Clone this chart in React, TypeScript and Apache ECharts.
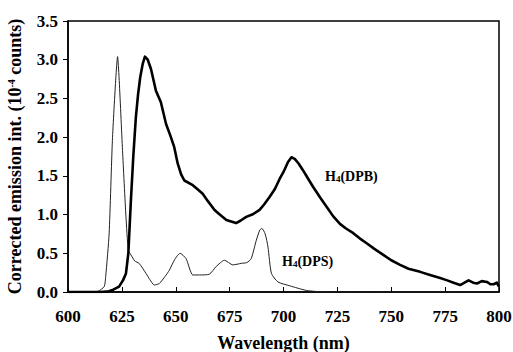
import React, { useEffect, useRef } from "react";
import * as echarts from "echarts";

const dpsWavelength = [600,605,610,614,616.8,617.5,619.1,620.6,622.2,623,623.7,625.3,626.9,628,629.2,631,633,636.2,638,640,642.4,645,647,649.5,652,654.8,657.9,661,665.6,668.8,672.6,676.5,680.4,683,685,687.4,689,690,691.5,692.8,694.4,697.4,702.9,710.7,720,730,740,760,780,800];
const dpsIntensity = [0,0,0,0.01,0.07,0.2,0.76,1.96,2.77,3.04,2.77,1.83,0.97,0.54,0.48,0.4,0.37,0.24,0.16,0.09,0.11,0.2,0.28,0.42,0.5,0.43,0.22,0.22,0.23,0.33,0.41,0.35,0.37,0.38,0.43,0.67,0.8,0.82,0.75,0.58,0.24,0.13,0.08,0.02,0,0,0,0,0,0];

const dpbWavelength = [600,610,615,619,621,623.7,625.5,626.9,628,629.2,630.3,631.5,632.5,633.5,634.7,635.7,637,638.5,640.8,643.1,645.5,647.5,649.3,650.9,652.5,654,657.9,660,662.5,665,668,670,671.8,673.5,675.7,678,680,682.7,685.5,688.9,691,693.6,696,698.2,700,702.1,703.7,705.2,707,709.1,711.5,713.7,717,720,723,726.2,729,732.4,735.5,738.6,742,746.3,750,754.1,758,763.4,768,772.7,776,778.9,782,784,785.9,788,789.8,792,794.4,796,797.5,799,800];
const dpbIntensity = [0,0,0,0.01,0.03,0.07,0.15,0.24,0.5,1.19,1.75,2.26,2.55,2.77,2.95,3.04,3.0,2.88,2.6,2.45,2.17,2.02,1.87,1.66,1.52,1.44,1.38,1.33,1.27,1.17,1.06,1.01,0.97,0.93,0.91,0.89,0.92,0.97,1.0,1.06,1.13,1.23,1.33,1.46,1.55,1.68,1.74,1.72,1.66,1.57,1.46,1.36,1.22,1.1,0.98,0.88,0.82,0.76,0.69,0.63,0.56,0.48,0.41,0.35,0.3,0.26,0.22,0.18,0.15,0.12,0.09,0.12,0.15,0.12,0.11,0.14,0.13,0.1,0.1,0.12,0.07];

const xMin = 600, xMax = 800, xStep = 25;
const yMin = 0, yMax = 3.5, yStep = 0.5;

const FONT = "Liberation Serif";

export default function App() {
  const ref = useRef<HTMLDivElement>(null);
  useEffect(() => {
    if (!ref.current) return;
    const chart = echarts.init(ref.current, null, { renderer: "svg" });
    const pair = (xs: number[], ys: number[]) => xs.map((x, i) => [x, ys[i]]);
    const labelStyle = { fontFamily: FONT, fontWeight: "bold" as const, fontSize: 17, color: "#000" };
    const annRich = {
      b: { fontFamily: FONT, fontWeight: "bold", fontSize: 14, color: "#000" },
      s: { fontFamily: FONT, fontWeight: "bold", fontSize: 9, color: "#000", padding: [6, 0, 0, 0] },
    };
    chart.setOption({
      animation: false,
      backgroundColor: "#fff",
      grid: { left: 68, right: 14, top: 21, bottom: 60, outerBoundsMode: "none", containLabel: false, show: true, borderColor: "#000", borderWidth: 1.5, backgroundColor: "transparent" },
      xAxis: {
        type: "value", min: xMin, max: xMax, interval: xStep,
        axisLine: { show: true, onZero: false, lineStyle: { color: "#000", width: 1.5 } },
        axisTick: { show: true, inside: true, length: 5, lineStyle: { color: "#000", width: 1 } },
        axisLabel: { ...labelStyle, margin: 16 },
        splitLine: { show: false },
        name: "Wavelength (nm)", nameLocation: "middle", nameGap: 42,
        nameTextStyle: { fontFamily: FONT, fontWeight: "bold", fontSize: 18, color: "#000" },
      },
      yAxis: {
        type: "value", min: yMin, max: yMax, interval: yStep,
        axisLine: { show: true, lineStyle: { color: "#000", width: 1.5 } },
        axisTick: { show: true, inside: false, length: 5, lineStyle: { color: "#000", width: 1 } },
        axisLabel: { ...labelStyle, margin: 10, formatter: (v: number) => v.toFixed(1) },
        splitLine: { show: false },
        name: "{t|Corrected emission int. (10}{s|-4}{t| counts)}", nameLocation: "middle", nameGap: 44,
        nameTextStyle: {
          rich: {
            t: { fontFamily: FONT, fontWeight: "bold", fontSize: 18, color: "#000" },
            s: { fontFamily: FONT, fontWeight: "bold", fontSize: 10, color: "#000", padding: [0, 0, 8, 0] },
          },
        },
      },
      series: [
        { name: "H4(DPS)", type: "line", data: pair(dpsWavelength, dpsIntensity), symbol: "none", smooth: 0.2, lineStyle: { color: "#222", width: 1 } },
        { name: "H4(DPB)", type: "line", data: pair(dpbWavelength, dpbIntensity), symbol: "none", smooth: false, lineStyle: { color: "#000", width: 2.6, join: "round" } },
      ],
      graphic: [
        { type: "text", left: 325, top: 169, style: { text: "{b|H}{s|4}{b|(DPB)}", rich: annRich } },
        { type: "text", left: 282, top: 254, style: { text: "{b|H}{s|4}{b|(DPS)}", rich: annRich } },
      ],
    });
    return () => chart.dispose();
  }, []);
  return <div ref={ref} style={{ position: "fixed", left: 0, top: 0, width: 513, height: 352 }} />;
}
